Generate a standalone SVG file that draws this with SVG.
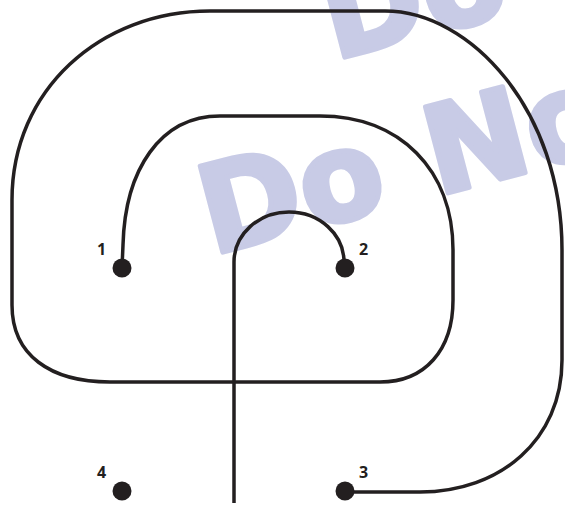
<svg xmlns="http://www.w3.org/2000/svg" width="565" height="506" viewBox="0 0 565 506">
<style>
.wm{font-family:"DejaVu Sans",sans-serif;font-weight:bold;font-size:122px;fill:#c8cbe6;stroke:#c8cbe6;stroke-width:5;stroke-linejoin:round}
.wire{fill:none;stroke:#231f20;stroke-width:3.5}
.dot{fill:#231f20}
.lbl{font-family:"Open Sans","Liberation Sans",sans-serif;font-weight:bold;font-size:16px;fill:#231f20}
</style>
<rect width="565" height="506" fill="#ffffff"/>
<g id="watermark">
<text class="wm" transform="translate(334,60) rotate(-14.7)">Do</text>
<text class="wm" transform="translate(212,255) rotate(-14.7)"><tspan x="0">Do</tspan><tspan x="233">No</tspan></text>
</g>
<g id="connectors">
<path class="wire" d="M 122 268 L 123 245 C 125 170 160 116 220 116 L 320 116 C 400 116 453 170 453 250 L 453 300 C 453 350 425 382 380 382 L 110 382 C 50 382 12 355 12 305 L 12 200 C 12 90 100 11 210 11 L 385 11 C 470 11 562 110 562 250 L 562 360 C 562 440 500 492 420 492 L 345 492"/>
<path class="wire" d="M 345 268 L 344 262 A 55 50 0 0 0 234 262 L 234 503"/>
</g>
<g id="node1"><circle class="dot" cx="122" cy="268" r="9.5"/><text class="lbl" x="97" y="255">1</text></g>
<g id="node2"><circle class="dot" cx="345" cy="268" r="9.5"/><text class="lbl" x="359" y="255">2</text></g>
<g id="node3"><circle class="dot" cx="345" cy="491" r="9.5"/><text class="lbl" x="359" y="478">3</text></g>
<g id="node4"><circle class="dot" cx="122" cy="491" r="9.5"/><text class="lbl" x="97" y="478">4</text></g>
</svg>
